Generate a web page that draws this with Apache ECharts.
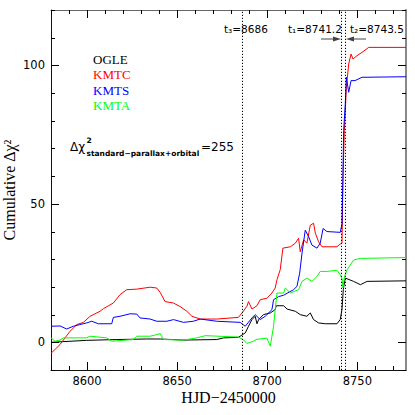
<!DOCTYPE html>
<html>
<head>
<meta charset="utf-8">
<script src="https://cdn.jsdelivr.net/npm/echarts@6/dist/echarts.min.js"></script>
<style>
html,body{margin:0;padding:0;background:#fff;}
#chart{width:415px;height:415px;}
</style>
</head>
<body>
<div id="chart"></div>
<script>
// ---- data ----
const hjd_ogle = [8580, 8599.8, 8616.5, 8633, 8640.6, 8653.5, 8672, 8675.8, 8684, 8687.8, 8689.6, 8691.5, 8693.3, 8694.3, 8695.2, 8697.9, 8701.7, 8704.4, 8705, 8709.1, 8711, 8715.6, 8718.3, 8722, 8723.9, 8725.7, 8728.5, 8732.2, 8738.7, 8740.5, 8741.5, 8742.2, 8743.3, 8747.9, 8751.7, 8755.4, 8777];
const chi_ogle = [0, 0.7, 1.0, 1.2, 1.2, 0.8, 1.0, 1.6, 1.8, 3.4, 5.8, 8.2, 9.4, 6.7, 8.2, 10, 10.6, 11.8, 13.2, 13.2, 12, 11.2, 10, 9.4, 10.6, 8.2, 7, 6.7, 6.7, 8.2, 12, 19, 23.2, 22, 20.8, 22, 22.2];

const hjd_kmtc = [8580, 8585, 8590.6, 8594.3, 8598, 8601.7, 8607.2, 8609, 8614.6, 8618.3, 8622, 8627.6, 8635, 8638.7, 8640.6, 8643.3, 8647.9, 8651.7, 8655.4, 8658.2, 8662.8, 8672, 8684, 8686, 8688.7, 8689.6, 8691.5, 8694.3, 8696.1, 8699.8, 8702.6, 8704.4, 8705.4, 8707.2, 8708.7, 8712.8, 8715.6, 8717.4, 8718.3, 8720.2, 8722, 8723.9, 8725.7, 8726.7, 8728.5, 8730.4, 8738.7, 8740.5, 8741.5, 8742, 8742.8, 8743.9, 8745.2, 8746.5, 8747.6, 8749.8, 8752.6, 8756.3, 8777];
const chi_kmtc = [-4, -0.8, 4, 6.4, 7.2, 9.4, 11.2, 12.1, 14.2, 17.2, 19, 19.2, 19.9, 19.6, 18, 14.7, 14.2, 12.9, 11.2, 9.4, 8.4, 8.4, 9, 10.6, 13, 14.7, 12, 13.2, 15.4, 15.9, 17.8, 19.6, 22.6, 26.2, 34, 34.5, 35.8, 37.6, 32.7, 37, 35.8, 42.3, 43, 39.4, 36.3, 34.5, 34.5, 35.5, 35.8, 58.5, 76.5, 92, 100.5, 104.1, 102.3, 103.5, 104.7, 106.5, 106.5];

const hjd_kmts = [8580, 8585, 8588.7, 8592.4, 8596, 8599.8, 8602.6, 8606.3, 8613.7, 8614.6, 8618.3, 8623.9, 8627.6, 8629.4, 8635, 8638.7, 8644.3, 8648, 8653.5, 8659, 8662.8, 8672, 8685, 8687.8, 8691.5, 8693.3, 8696.1, 8698.9, 8702.6, 8703.5, 8706.3, 8709.1, 8714.6, 8716.5, 8718, 8719.3, 8721.1, 8723, 8724.8, 8727.6, 8729.4, 8731, 8733.1, 8740.5, 8741.5, 8742, 8742.4, 8743.3, 8743.9, 8745.2, 8746.5, 8748.7, 8752.6, 8777];
const chi_kmts = [5.8, 5.9, 4.8, 5.8, 6.4, 7, 7.6, 6.7, 6.7, 9, 9.4, 10.3, 10.2, 8.8, 8.4, 7.6, 7.6, 8.2, 7.2, 7.6, 8.4, 7.6, 7.2, 5.8, 8.8, 10, 8.2, 9.4, 11.8, 15.4, 16.5, 17, 19, 20.2, 25, 32.2, 40.5, 38.1, 35.1, 34, 35.8, 41.1, 40, 39.7, 42.8, 60, 76.5, 86, 95.7, 90.3, 94.5, 94.5, 95.7, 95.9];

const hjd_kmta = [8580, 8582.2, 8585, 8587, 8599.8, 8601.7, 8610.9, 8613.7, 8625.7, 8627.6, 8635, 8638.7, 8640.6, 8642.4, 8653.5, 8660.9, 8665.6, 8684, 8686.9, 8688.7, 8690.6, 8692.4, 8694.3, 8699.8, 8701.7, 8702.6, 8703.5, 8704.4, 8705.4, 8709.1, 8710, 8712.8, 8717.4, 8719.3, 8722, 8724.8, 8727.6, 8729.4, 8733.1, 8738.7, 8740.5, 8741.5, 8742, 8742.8, 8744.3, 8746.1, 8747.9, 8751.7, 8777];
const chi_kmta = [1.6, 0.4, 0.8, 1.6, 1.6, 2.2, 1.6, 0.4, 1, 2.2, 2.2, 2.8, 3.1, 1, 0.8, 1.6, 2.4, 1.9, 0.8, -0.4, 0, 0.4, 1.1, 1.5, -1.4, 2.2, 5.8, 11.8, 17.8, 17.8, 19.6, 17.8, 19, 22, 23.2, 22, 23.8, 25.6, 25.6, 26, 24.4, 23.1, 19.6, 23.6, 26.2, 27.9, 29.7, 30.3, 30.6];

const seriesNames = ['OGLE', 'KMTC', 'KMTS', 'KMTA'];
const tTimes = [8686, 8741.2, 8743.5];
const tLabels = ['t\u2083=8686', 't\u2081=8741.2', 't\u2082=8743.5'];
const xMajorTicks = [8600, 8650, 8700, 8750];
const yMajorTicks = [0, 50, 100];
const xRange = [8580, 8777];
const yRange = [-10, 120];
const yTitle = 'Cumulative \u0394\u03c7\u00b2';
const xTitle = 'HJD\u22122450000';

// ---- styling ----
const colors = ['#000000', '#ff0000', '#0000ff', '#00ff00'];
const MAJOR_LEN = 8, MINOR_LEN = 4;

const xTickVals = [];
for (let v = xRange[0]; v <= xRange[1]; v += 10) xTickVals.push(v);
const yTickVals = [];
for (let v = yRange[0]; v <= yRange[1]; v += 10) yTickVals.push(v);

const zip = (xs, ys) => xs.map((x, i) => [x, ys[i]]);
const allData = [zip(hjd_ogle, chi_ogle), zip(hjd_kmtc, chi_kmtc), zip(hjd_kmts, chi_kmts), zip(hjd_kmta, chi_kmta)];

function axisBase(range, pos, lineColor, lineWidth, showLabel, majorVals, margin) {
  return {
    type: 'value', position: pos, min: range[0], max: range[1], interval: 10,
    axisLine: { show: true, onZero: false, lineStyle: { color: lineColor, width: lineWidth } },
    axisTick: { show: false },
    axisLabel: { show: showLabel, interval: 0, hideOverlap: false, fontFamily: 'DejaVu Sans', fontSize: 11.5, color: '#000', margin: margin,
      formatter: v => (majorVals.indexOf(v) >= 0 ? String(v) : '') },
    splitLine: { show: false }
  };
}
const nameStyle = { fontFamily: 'Liberation Serif', fontSize: 16, color: '#000' };

const xBottom = Object.assign(axisBase(xRange, 'bottom', '#111', 1, true, xMajorTicks, 5),
  { name: xTitle, nameLocation: 'middle', nameGap: 19, nameMoveOverlap: false, nameTextStyle: nameStyle });

const chart = echarts.init(document.getElementById('chart'), null, { renderer: 'svg' });

const series = allData.map((d, i) => ({
  name: seriesNames[i], type: 'line', data: d, xAxisIndex: 0, yAxisIndex: 0,
  showSymbol: false, symbol: 'none', animation: false, z: 3,
  lineStyle: { color: colors[i], width: 1 }, itemStyle: { color: colors[i] }
}));
series[0].markLine = {
  silent: true, symbol: ['none', 'none'], animation: false,
  label: { show: false },
  lineStyle: { color: '#000', type: [1.2, 1.8], width: 1 },
  data: tTimes.map(t => ({ xAxis: t }))
};

const txt = (left, top, text, size, opts) => ({
  type: 'text', left: left, top: top, z: 10,
  style: Object.assign({ text: text, fontFamily: 'DejaVu Sans', fontSize: size, fill: '#000' }, opts || {})
});

const baseGraphic = [
  { type: 'text', x: 9.5, y: 190, rotation: Math.PI / 2, z: 10,
    style: { text: yTitle, fontFamily: 'Liberation Serif', fontSize: 16, fill: '#000', align: 'center', verticalAlign: 'middle' } },
  txt(224, 23, tLabels[0], 10.5),
  txt(288, 23, tLabels[1], 10.5),
  txt(350, 23, tLabels[2], 10.5),
  { type: 'line', shape: { x1: 321, y1: 39, x2: 337, y2: 39 }, style: { stroke: '#444', lineWidth: 1 }, z: 10 },
  { type: 'polygon', shape: { points: [[333, 36.5], [341, 39], [333, 41.5]] }, style: { fill: '#444' }, z: 10 },
  { type: 'line', shape: { x1: 350, y1: 39, x2: 366, y2: 39 }, style: { stroke: '#444', lineWidth: 1 }, z: 10 },
  { type: 'polygon', shape: { points: [[354, 36.5], [346, 39], [354, 41.5]] }, style: { fill: '#444' }, z: 10 },
  txt(70, 141, '\u0394\u03c7', 12),
  txt(86.5, 136, '2', 7.5, { fontWeight: 'bold' }),
  txt(86.5, 149.5, 'standard\u2212parallax+orbital', 7.5, { fontWeight: 'bold' }),
  txt(201, 141, '=255', 12)
];

chart.setOption({
  animation: false,
  backgroundColor: '#fff',
  grid: { left: 51, right: 9, top: 10, bottom: 45, containLabel: false },
  xAxis: [
    xBottom,
    axisBase(xRange, 'top', '#666', 1.2, false, xMajorTicks, 5)
  ],
  yAxis: [
    axisBase(yRange, 'left', '#111', 1, true, yMajorTicks, 6),
    axisBase(yRange, 'right', '#888', 2, false, yMajorTicks, 6)
  ],
  legend: {
    show: true, orient: 'vertical', left: 83, top: 47,
    itemWidth: 0, itemHeight: 14, itemGap: 1.5, icon: 'none', selectedMode: false,
    textStyle: { fontFamily: 'Liberation Serif', fontSize: 13, lineHeight: 14 },
    data: seriesNames.map((n, i) => ({ name: n, icon: 'none', textStyle: { color: colors[i] } }))
  },
  graphic: baseGraphic,
  series: series
});

// inward ticks on all four sides, placed through the chart's own scales
const toPx = (xv, yv) => chart.convertToPixel({ gridIndex: 0 }, [xv, yv]);
const bl = toPx(xRange[0], yRange[0]);
const tr = toPx(xRange[1], yRange[1]);
const tickEls = [];
const tickStyle = { stroke: '#000', lineWidth: 1 };
xTickVals.forEach(v => {
  const len = xMajorTicks.indexOf(v) >= 0 ? MAJOR_LEN : MINOR_LEN;
  const x = Math.round(toPx(v, yRange[0])[0]) + 0.5;
  tickEls.push({ type: 'line', silent: true, z: 11, shape: { x1: x, y1: bl[1], x2: x, y2: bl[1] - len }, style: tickStyle });
  tickEls.push({ type: 'line', silent: true, z: 11, shape: { x1: x, y1: tr[1], x2: x, y2: tr[1] + len }, style: tickStyle });
});
yTickVals.forEach(v => {
  const len = yMajorTicks.indexOf(v) >= 0 ? MAJOR_LEN : MINOR_LEN;
  const y = Math.round(toPx(xRange[0], v)[1]) + 0.5;
  tickEls.push({ type: 'line', silent: true, z: 11, shape: { x1: bl[0], y1: y, x2: bl[0] + len, y2: y }, style: tickStyle });
  tickEls.push({ type: 'line', silent: true, z: 11, shape: { x1: tr[0], y1: y, x2: tr[0] - len, y2: y }, style: tickStyle });
});
chart.setOption({ graphic: baseGraphic.concat(tickEls) });
</script>
</body>
</html>
